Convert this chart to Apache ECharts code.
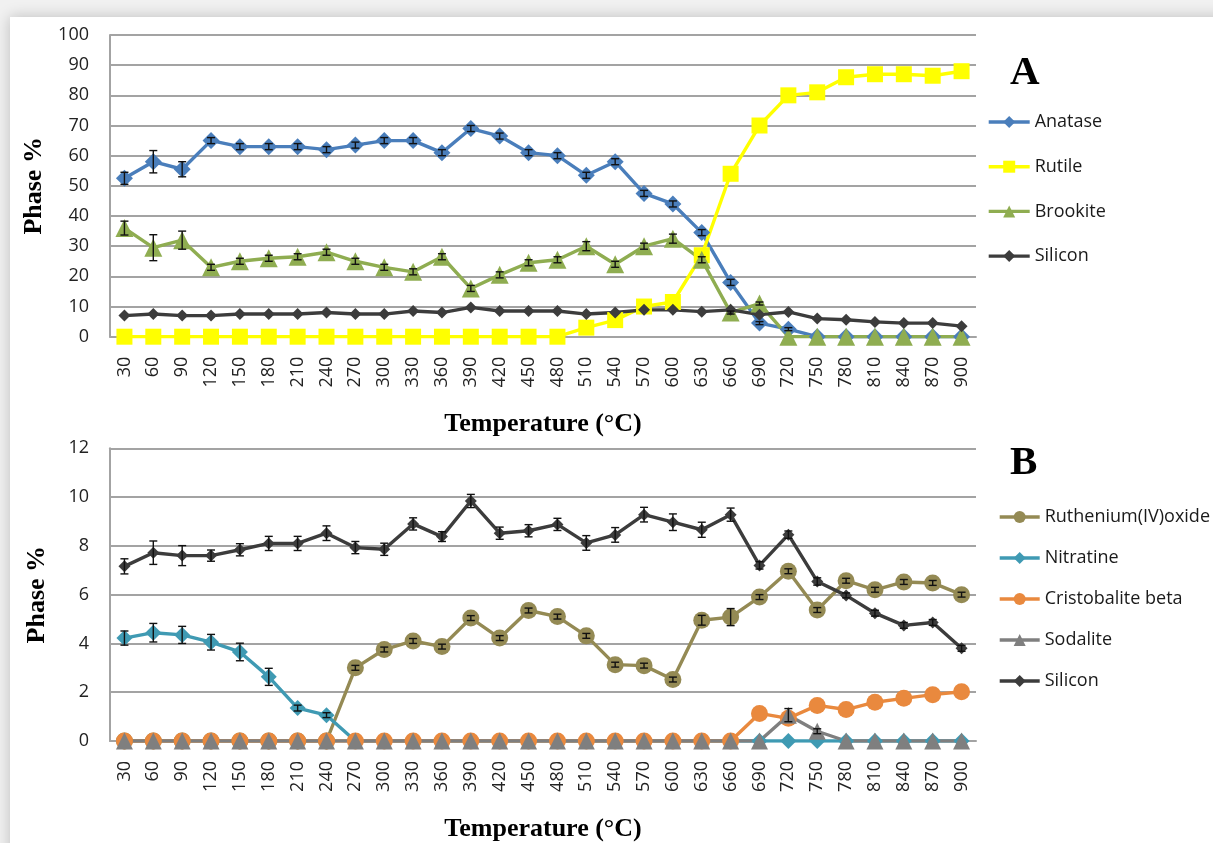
<!DOCTYPE html>
<html>
<head>
<meta charset="utf-8">
<script src="https://cdn.jsdelivr.net/npm/echarts@6/dist/echarts.min.js"></script>
<style>
  html, body { margin: 0; padding: 0; background: #f1f1f1; }
  #chart { width: 1213px; height: 843px; }
</style>
</head>
<body>
<div id="chart"></div>
<script>
// Calcination temperatures (°C), shared by both panels
const temperatures = ['30','60','90','120','150','180','210','240','270','300','330','360','390','420','450',
  '480','510','540','570','600','630','660','690','720','750','780','810','840','870','900'];

// Panel A: TiO2 phases (%)
const anatase   = [52.5,58,55.5,65,63,63,63,62,63.5,65,65,61,69,66.5,61,60,53.5,58,47.5,44,34.5,18,4.5,2.5,0,0,0,0,0,0];
const anataseErr= [2,3.7,2.5,1,1,1,1,1,1,1,1,1,1,1,1,1,1,1,1,1,1,1,0.5,0.5,0,0,0,0,0,0];
const rutile    = [0,0,0,0,0,0,0,0,0,0,0,0,0,0,0,0,3,5.5,10,11.5,27,54,70,80,81,86,87,87,86.5,88];
const brookite  = [36,29.5,32,23,25,26,26.5,28,25,23,21.5,26.5,16,20.5,24.5,25.5,30,24,30,32.5,25.5,8,11,0,0,0,0,0,0,0];
const brookiteErr=[2.3,4.3,3,1,1,1,1,1,1,1,1,1,1,1,1,1,1.5,1,1,1.5,1,0.5,0.5,0,0,0,0,0,0,0];
const siliconA  = [7,7.5,7,7,7.5,7.5,7.5,8,7.5,7.5,8.5,8,9.7,8.5,8.5,8.5,7.5,8,8.9,8.9,8.3,8.9,7.3,8.2,6,5.6,4.9,4.5,4.5,3.5];

// Panel B: minor phases (%)
const ruthenium = [0,0,0,0,0,0,0,0,3.0,3.75,4.1,3.87,5.04,4.22,5.35,5.1,4.31,3.13,3.09,2.52,4.95,5.08,5.9,6.96,5.37,6.57,6.2,6.52,6.48,6.0];
const rutheniumErr=[0,0,0,0,0,0,0,0,0.1,0.1,0.1,0.1,0.1,0.1,0.1,0.1,0.1,0.1,0.1,0.1,0.2,0.35,0.1,0.1,0.1,0.1,0.1,0.1,0.1,0.1];
const nitratine = [4.22,4.44,4.35,4.05,3.65,2.63,1.35,1.06,0,0,0,0,0,0,0,0,0,0,0,0,0,0,0,0,0,0,0,0,0,0];
const nitratineErr=[0.29,0.38,0.35,0.32,0.36,0.35,0.12,0.1,0,0,0,0,0,0,0,0,0,0,0,0,0,0,0,0,0,0,0,0,0,0];
const cristobalite=[0,0,0,0,0,0,0,0,0,0,0,0,0,0,0,0,0,0,0,0,0,0,1.13,0.93,1.46,1.29,1.59,1.75,1.9,2.02];
const sodalite  = [0,0,0,0,0,0,0,0,0,0,0,0,0,0,0,0,0,0,0,0,0,0,0,1.06,0.4,0,0,0,0,0];
const sodaliteErr=[0,0,0,0,0,0,0,0,0,0,0,0,0,0,0,0,0,0,0,0,0,0,0,0.27,0.1,0,0,0,0,0];
const siliconB  = [7.16,7.72,7.6,7.6,7.84,8.1,8.1,8.52,7.93,7.86,8.9,8.38,9.84,8.52,8.62,8.88,8.12,8.45,9.28,8.97,8.66,9.28,7.2,8.46,6.54,5.97,5.24,4.74,4.86,3.8];
const siliconBErr=[0.31,0.48,0.41,0.23,0.25,0.29,0.29,0.3,0.25,0.25,0.25,0.2,0.27,0.25,0.25,0.25,0.3,0.3,0.3,0.34,0.31,0.27,0.15,0.15,0.15,0.1,0.12,0.12,0.12,0.12];

const yTicksA = { min: 0, max: 100, interval: 10 };
const yTicksB = { min: 0, max: 12, interval: 2 };

const LABEL_FONT = 'Open Sans';
const TITLE_FONT = 'Liberation Serif';
const GRID_GRAY = '#a3a3a3';
const LINE_W = 3.4;

function line(name, data, axis, color, symbol, size) {
  return {
    name, type: 'line', data,
    xAxisIndex: axis, yAxisIndex: axis,
    symbol, symbolSize: size,
    lineStyle: { color, width: LINE_W },
    itemStyle: { color },
    emphasis: { disabled: true },
    animation: false
  };
}

// vertical error bars with end caps
function errorBars(values, errs, axis) {
  const data = [];
  values.forEach((v, i) => { if (errs[i] > 0) data.push([i, v, errs[i]]); });
  return {
    type: 'custom', xAxisIndex: axis, yAxisIndex: axis, data, z: 5, silent: true, animation: false,
    renderItem(params, api) {
      const i = api.value(0), v = api.value(1), e = api.value(2);
      const hi = api.coord([i, v + e]);
      const lo = api.coord([i, Math.max(0, v - e)]);
      const hw = 4;
      const st = { stroke: '#111', lineWidth: 1.4 };
      return {
        type: 'group',
        children: [
          { type: 'line', shape: { x1: hi[0], y1: hi[1], x2: lo[0], y2: lo[1] }, style: st },
          { type: 'line', shape: { x1: hi[0] - hw, y1: hi[1], x2: hi[0] + hw, y2: hi[1] }, style: st },
          { type: 'line', shape: { x1: lo[0] - hw, y1: lo[1], x2: lo[0] + hw, y2: lo[1] }, style: st }
        ]
      };
    }
  };
}

function xAxis(grid) {
  return {
    type: 'category', gridIndex: grid, data: temperatures, boundaryGap: true,
    axisLine: { lineStyle: { color: GRID_GRAY, width: 2 } },
    axisTick: { show: false },
    axisLabel: { rotate: 90, margin: 20, fontFamily: LABEL_FONT, fontSize: 18, color: '#222', interval: 0 },
    name: 'Temperature (°C)', nameLocation: 'middle', nameGap: 75,
    nameTextStyle: { fontFamily: TITLE_FONT, fontWeight: 'bold', fontSize: 26, color: '#000' }
  };
}

function yAxis(grid, ticks) {
  return {
    type: 'value', gridIndex: grid, min: ticks.min, max: ticks.max, interval: ticks.interval,
    axisLine: { show: true, lineStyle: { color: GRID_GRAY, width: 2 } },
    axisTick: { show: false },
    splitLine: { lineStyle: { color: GRID_GRAY, width: 2 } },
    axisLabel: { margin: 21, fontFamily: LABEL_FONT, fontSize: 18, color: '#222' },
    name: 'Phase %', nameLocation: 'middle', nameRotate: 90, nameGap: 60,
    nameTextStyle: { fontFamily: TITLE_FONT, fontWeight: 'bold', fontSize: 26, color: '#000' }
  };
}

const legendText = { fontFamily: LABEL_FONT, fontSize: 18, color: '#1a1a1a', lineHeight: 18 };
const legendBase = {
  orient: 'vertical', itemHeight: 15,
  selectedMode: false, textStyle: legendText,
  lineStyle: { width: LINE_W }
};

const chart = echarts.init(document.getElementById('chart'), null, { renderer: 'canvas' });
chart.setOption({
  backgroundColor: '#f1f1f1',
  animation: false,
  graphic: [{
    type: 'rect', z: -100, silent: true,
    shape: { x: 10, y: 17, width: 1400, height: 1000 },
    style: { fill: '#ffffff', shadowBlur: 14, shadowColor: 'rgba(0,0,0,0.22)' }
  }],
  title: [
    { text: 'A', left: 1005, top: 48, textStyle: { fontFamily: TITLE_FONT, fontWeight: 'bold', fontSize: 41, color: '#000' } },
    { text: 'B', left: 1005, top: 438, textStyle: { fontFamily: TITLE_FONT, fontWeight: 'bold', fontSize: 41, color: '#000' } }
  ],
  grid: [
    { left: 110, top: 35, width: 866, height: 301.7 },
    { left: 110, top: 448.3, width: 866, height: 301.7 }
  ],
  legend: [
    Object.assign({}, legendBase, {
      left: 982, top: 108, itemWidth: 41, itemGap: 26.7,
      data: ['Anatase', 'Rutile', 'Brookite', 'Silicon']
    }),
    Object.assign({}, legendBase, {
      left: 993, top: 503, itemWidth: 40, itemGap: 23,
      data: ['Ruthenium(IV)oxide', 'Nitratine', 'Cristobalite beta', 'Sodalite', 'Silicon']
    })
  ],
  xAxis: [xAxis(0), xAxis(1)],
  yAxis: [yAxis(0, yTicksA), yAxis(1, yTicksB)],
  series: [
    line('Anatase', anatase, 0, '#4a7ebb', 'diamond', 17),
    line('Rutile', rutile, 0, '#ffff00', 'rect', 16),
    line('Brookite', brookite, 0, '#8fad51', 'triangle', 18),
    line('Silicon', siliconA, 0, '#3c3c3c', 'diamond', 12),
    errorBars(anatase, anataseErr, 0),
    errorBars(brookite, brookiteErr, 0),

    line('Ruthenium(IV)oxide', ruthenium, 1, '#948a54', 'circle', 17),
    line('Nitratine', nitratine, 1, '#3f9ab3', 'diamond', 16),
    line('Cristobalite beta', cristobalite, 1, '#e9893e', 'circle', 17),
    line('Sodalite', sodalite, 1, '#7f7f7f', 'triangle', 17),
    line('Silicon', siliconB, 1, '#3c3c3c', 'diamond', 12),
    errorBars(ruthenium, rutheniumErr, 1),
    errorBars(nitratine, nitratineErr, 1),
    errorBars(sodalite, sodaliteErr, 1),
    errorBars(siliconB, siliconBErr, 1)
  ]
});
</script>
</body>
</html>
